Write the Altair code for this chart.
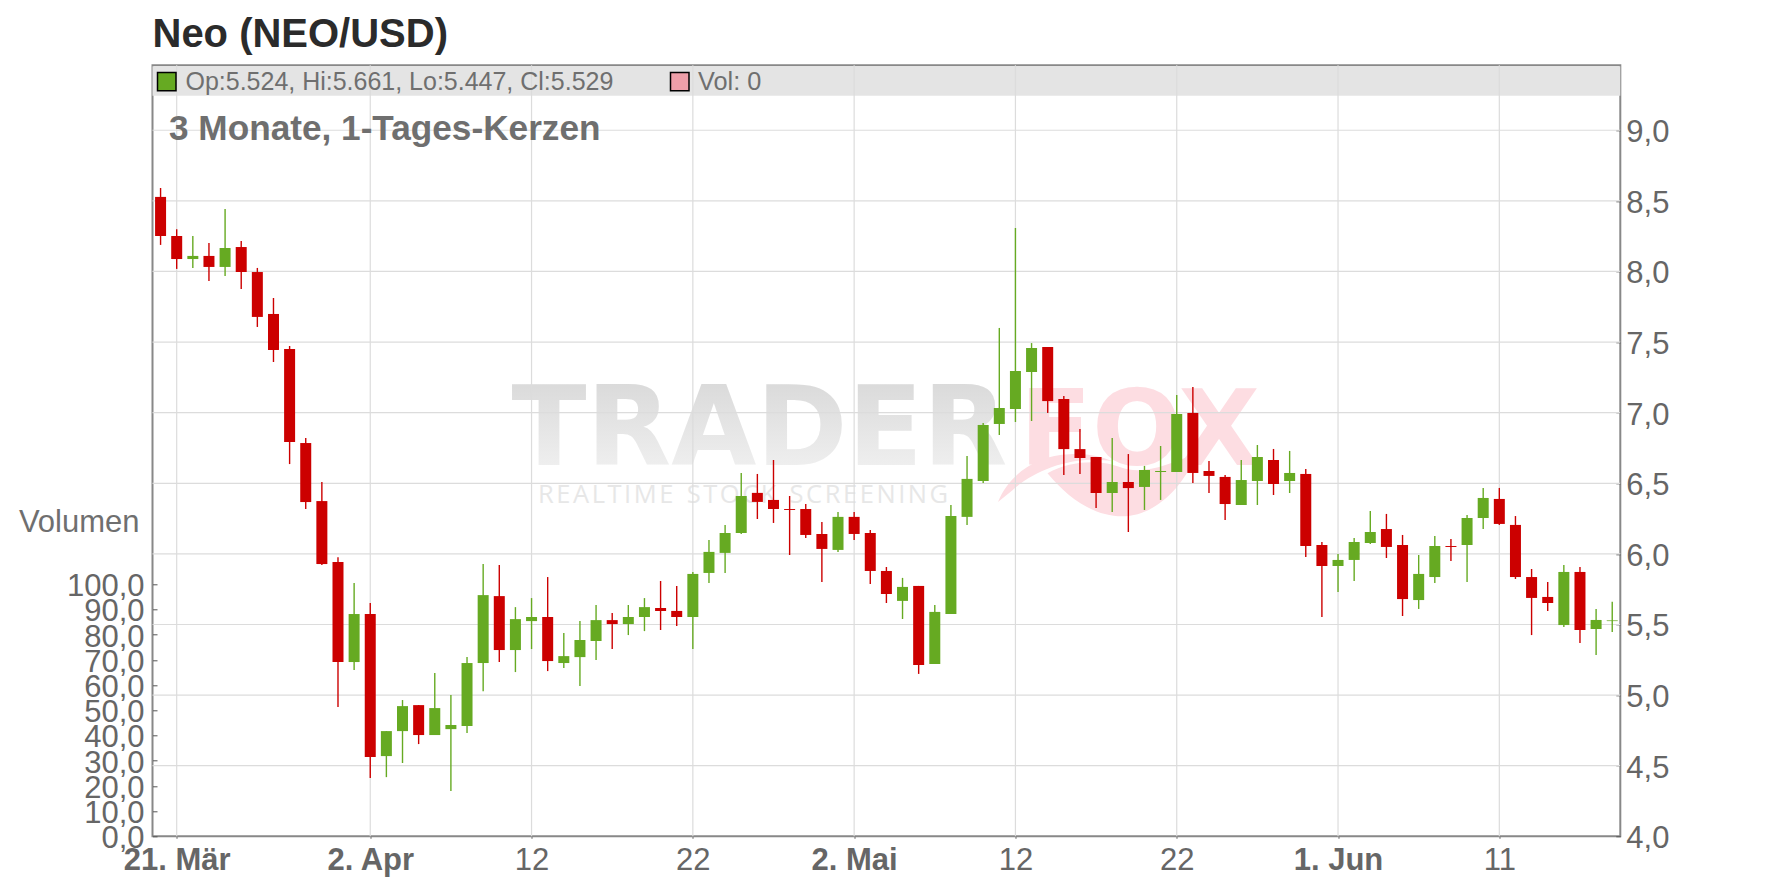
import altair as alt
import pandas as pd

FONT = "Liberation Sans"
TITLE = "Neo (NEO/USD)"
SUBTITLE = "3 Monate, 1-Tages-Kerzen"
OHLC_TEXT = "Op:5.524, Hi:5.661, Lo:5.447, Cl:5.529"
VOL_TEXT = "Vol: 0"
VOL_LABEL = "Volumen"
UP, DOWN = "#66aa22", "#cc0000"

opens = [8.528,8.251,8.088,8.110,8.032,8.173,7.996,7.699,7.451,6.785,6.374,5.942,5.234,5.574,4.568,4.745,4.929,4.717,4.759,4.781,
         5.227,5.701,5.319,5.524,5.553,5.227,5.269,5.383,5.531,5.503,5.553,5.617,5.596,5.553,5.865,6.007,6.148,6.432,6.382,6.318,
         6.318,6.141,6.028,6.262,6.148,5.879,5.667,5.773,5.220,5.575,6.262,6.516,6.920,7.026,7.288,7.465,7.097,6.742,6.686,6.431,
         6.509,6.474,6.580,6.580,6.998,6.587,6.545,6.346,6.516,6.665,6.516,6.566,6.063,5.914,5.957,6.077,6.176,6.063,5.673,5.836,
         6.056,6.063,6.254,6.389,6.205,5.836,5.695,5.496,5.872,5.468,5.524]
highs = [8.591,8.299,8.251,8.202,8.443,8.216,8.025,7.812,7.472,6.821,6.509,5.977,5.793,5.652,4.745,4.965,4.929,5.156,5.000,5.269,
         5.928,5.921,5.623,5.687,5.836,5.439,5.524,5.638,5.581,5.638,5.687,5.808,5.773,5.872,6.099,6.205,6.573,6.566,6.665,6.410,
         6.354,6.226,6.297,6.297,6.170,5.907,5.830,5.773,5.638,6.347,6.694,6.927,7.600,8.308,7.493,7.465,7.118,6.884,6.686,6.820,
         6.707,6.623,6.764,7.125,7.182,6.658,6.559,6.665,6.771,6.743,6.729,6.601,6.084,5.999,6.113,6.304,6.283,6.134,5.992,6.127,
         6.105,6.275,6.467,6.467,6.268,5.893,5.801,5.921,5.907,5.610,5.661]
lows = [8.188,8.018,8.025,7.933,7.968,7.876,7.607,7.359,6.636,6.318,5.921,4.915,5.177,4.412,4.419,4.519,4.653,4.717,4.320,4.731,
        5.028,5.234,5.163,5.326,5.170,5.191,5.064,5.248,5.326,5.425,5.453,5.461,5.490,5.327,5.794,5.865,6.141,6.247,6.219,5.992,
        6.113,5.801,6.014,6.099,5.787,5.652,5.539,5.150,5.220,5.575,6.205,6.502,6.842,6.934,6.941,6.998,6.558,6.565,6.325,6.297,
        6.155,6.311,6.382,6.580,6.502,6.431,6.240,6.346,6.346,6.417,6.431,5.978,5.553,5.730,5.808,6.070,5.971,5.560,5.610,5.794,
        5.950,5.801,6.176,6.205,5.822,5.425,5.595,5.482,5.369,5.284,5.447]
closes = [8.251,8.088,8.110,8.032,8.166,7.996,7.678,7.444,6.792,6.367,5.928,5.234,5.574,4.561,4.745,4.922,4.717,4.908,4.788,5.227,
          5.708,5.319,5.538,5.553,5.241,5.276,5.390,5.531,5.503,5.553,5.623,5.596,5.553,5.858,6.014,6.148,6.410,6.368,6.318,6.311,
          6.134,6.035,6.262,6.141,5.879,5.716,5.766,5.213,5.589,6.269,6.531,6.913,7.033,7.295,7.458,7.082,6.742,6.679,6.431,6.509,
          6.466,6.594,6.587,6.991,6.573,6.552,6.353,6.523,6.686,6.495,6.573,6.056,5.914,5.957,6.084,6.155,6.049,5.680,5.858,6.056,
          6.049,6.254,6.396,6.212,5.836,5.688,5.652,5.872,5.461,5.532,5.529]
volumes = [0.0] * 91
dates = [d.strftime("%Y-%m-%dT00:00:00Z") for d in pd.date_range("2023-03-20", periods=91)]

tick_dates = ["2023-03-21", "2023-04-02", "2023-04-12", "2023-04-22", "2023-05-02",
              "2023-05-12", "2023-05-22", "2023-06-01", "2023-06-11"]
tick_labels = ["21. Mär", "2. Apr", "12", "22", "2. Mai", "12", "22", "1. Jun", "11"]
price_ticks = [4.0, 4.5, 5.0, 5.5, 6.0, 6.5, 7.0, 7.5, 8.0, 8.5, 9.0]
volume_ticks = [0, 10, 20, 30, 40, 50, 60, 70, 80, 90, 100]

W, H = 1467.8, 771
PRICE_DOMAIN = [4.0, 9.46]
VOLUME_DOMAIN = [0, 305.95]
X_DOMAIN = [int(pd.Timestamp("2023-03-19T12:00:00Z").timestamp() * 1000),
            int(pd.Timestamp("2023-06-18T12:00:00Z").timestamp() * 1000)]
tick_ms = [int(pd.Timestamp(d + "T00:00:00Z").timestamp() * 1000) for d in tick_dates]
month_ticks = [m for m, l in zip(tick_ms, tick_labels) if len(l) > 2]

GRID = "#dcdcdc"
TEXT = "#6f6f6f"
AXIS_TEXT = "#666666"

df = pd.DataFrame({"date": dates, "open": opens, "high": highs, "low": lows, "close": closes, "volume": volumes})
df["dir"] = ["up" if c >= o else "down" for o, c in zip(opens, closes)]
xs = alt.Scale(type="utc", domain=X_DOMAIN, padding=0, nice=False)
ys = alt.Scale(domain=PRICE_DOMAIN, nice=False, zero=False)
color = alt.Color("dir:N", scale=alt.Scale(domain=["up", "down"], range=[UP, DOWN]), legend=None)

labels_js = "[" + ",".join(f"'{l}'" for l in tick_labels) + "]"
x_axis = alt.Axis(
    values=tick_ms, title=None, grid=False, domain=False, tickColor="#666666", tickSize=2, tickWidth=1,
    labelExpr=f"{labels_js}[indexof({tick_ms}, time(datum.value))]",
    labelFont=FONT, labelFontSize=31, labelColor=AXIS_TEXT, labelBaseline="alphabetic", labelPadding=31.7,
    labelOverlap=False, labelBound=False, labelFlush=False,
    labelFontWeight={"condition": {"test": f"indexof({month_ticks}, time(datum.value)) >= 0", "value": "bold"},
                     "value": "normal"},
)
price_axis = alt.Axis(
    orient="right", values=price_ticks, title=None, grid=False, domain=False, offset=-4.5,
    tickColor="#555555", tickSize=4.5, tickWidth=1,
    labelExpr="replace(format(datum.value,'.1f'),'.',',')",
    labelFont=FONT, labelFontSize=31, labelColor=AXIS_TEXT, labelAlign="left", labelBaseline="alphabetic",
    labelOffset=11.4, labelPadding=5.5, labelOverlap=False, labelBound=False, labelFlush=False,
)
volume_axis = alt.Axis(
    orient="left", values=volume_ticks, title=None, grid=False, domain=False, offset=-4.5,
    tickColor="#555555", tickSize=4.5, tickWidth=1,
    labelExpr="replace(format(datum.value,'.1f'),'.',',')",
    labelFont=FONT, labelFontSize=31, labelColor=AXIS_TEXT, labelAlign="right", labelBaseline="alphabetic",
    labelOffset=11.4, labelPadding=8.5, labelOverlap=False, labelBound=False, labelFlush=False,
)


def note(text, x, y, size, col, weight="normal", align="left", font=FONT, **kw):
    return alt.Chart(pd.DataFrame({"t": [text]})).mark_text(
        font=font, fontSize=size, color=col, fontWeight=weight, align=align, baseline="alphabetic", **kw
    ).encode(text="t:N", x=alt.value(x), y=alt.value(y))


one = pd.DataFrame({"a": [0]})
band = alt.Chart(one).mark_rect(color="#e4e4e4").encode(
    x=alt.value(0), x2=alt.value(W), y=alt.value(1), y2=alt.value(30.5))

trader_fill = alt.Gradient(gradient="linear", x1=0, y1=0, x2=0, y2=1,
                           stops=[alt.GradientStop(offset=0.15, color="#dadada"),
                                  alt.GradientStop(offset=0.85, color="#f0f0f0")])
wm_trader = alt.Chart(pd.DataFrame({"t": ["TRADER"]})).mark_text(
    font="DejaVu Sans", fontSize=110, fontWeight="bold", align="left", baseline="alphabetic", color=trader_fill
).encode(text="t:N", x=alt.value(359), y=alt.value(400))
wm_fox = note("FOX", 867, 400, 106, "#fddde2", weight="bold", font="DejaVu Sans")
wm_sub = note("R\u200aE\u200aA\u200aL\u200aT\u200aI\u200aM\u200aE\u00a0\u00a0S\u200aT\u200aO\u200aC\u200aK\u00a0\u00a0"
              "S\u200aC\u200aR\u200aE\u200aE\u200aN\u200aI\u200aN\u200aG",
              385.5, 437.4, 25.5, "#e7e7e7", font="Open Sans")
FOX_TAIL = ("M845.5,436.7 C857,408 885,390 917,389 C935,388 948,391 960,396 "
            "C925,390 885,402 860,425 Z "
            "M895,408 C920,394 950,395 968,402 C990,410 1015,400 1044,388 "
            "C1030,425 1000,451 970,451 C940,451 915,432 895,408 Z")
wm_tail = alt.Chart(one).mark_point(shape=FOX_TAIL, filled=True, fill="#fddde2", opacity=1, size=4).encode(
    x=alt.value(0), y=alt.value(0))

vgrid = alt.Chart(pd.DataFrame({"t": tick_ms})).mark_rule(color=GRID, strokeWidth=1.2).encode(
    x=alt.X("t:T", scale=xs, axis=x_axis))
hgrid = alt.Chart(pd.DataFrame({"p": price_ticks[1:]})).mark_rule(color=GRID, strokeWidth=1.2).encode(
    y=alt.Y("p:Q", scale=ys, axis=price_axis))

base = alt.Chart(df)
wicks = base.mark_rule(strokeWidth=1.4).encode(
    x=alt.X("date:T", scale=xs, axis=x_axis),
    y=alt.Y("low:Q", scale=ys, axis=price_axis), y2="high:Q", color=color)
bodies = base.mark_bar(size=11).encode(
    x=alt.X("date:T", scale=xs, axis=x_axis),
    y=alt.Y("open:Q", scale=ys, axis=price_axis), y2="close:Q", color=color)
price_layer = alt.layer(band, wm_trader, wm_fox, wm_sub, wm_tail, vgrid, hgrid, wicks, bodies)

volume_layer = base.mark_bar(size=11, opacity=0).encode(
    x=alt.X("date:T", scale=xs, axis=x_axis),
    y=alt.Y("volume:Q", scale=alt.Scale(domain=VOLUME_DOMAIN, nice=False), axis=volume_axis))

sq1 = alt.Chart(one).mark_rect(color=UP, stroke="#000000", strokeWidth=1.5).encode(
    x=alt.value(5), x2=alt.value(23.5), y=alt.value(7.2), y2=alt.value(25.4))
sq2 = alt.Chart(one).mark_rect(color="#ee9fa9", stroke="#000000", strokeWidth=1.5).encode(
    x=alt.value(518), x2=alt.value(536.5), y=alt.value(7.2), y2=alt.value(25.4))
t_title = note(TITLE, 0, -18.6, 40, "#2b2b2b", weight="bold")
t_ohlc = note(OHLC_TEXT, 33, 24.7, 25, TEXT)
t_vol = note(VOL_TEXT, 545.5, 24.7, 25.3, TEXT)
t_sub = note(SUBTITLE, 16.5, 74.7, 35.2, TEXT, weight="bold")
t_volume = note(VOL_LABEL, -13, 466.4, 31, TEXT, align="right")

chart = alt.layer(price_layer, volume_layer, sq1, sq2, t_title, t_ohlc, t_vol, t_sub, t_volume).resolve_scale(
    y="independent"
).properties(
    width=W, height=H, autosize=alt.AutoSizeParams(type="none"), background="#ffffff",
    padding={"left": 144.5, "top": 57.3, "right": 147.7, "bottom": 43},
).configure_view(stroke="#888888", strokeWidth=2)

chart.save("out.html", embed_options={"renderer": "svg", "actions": False})
